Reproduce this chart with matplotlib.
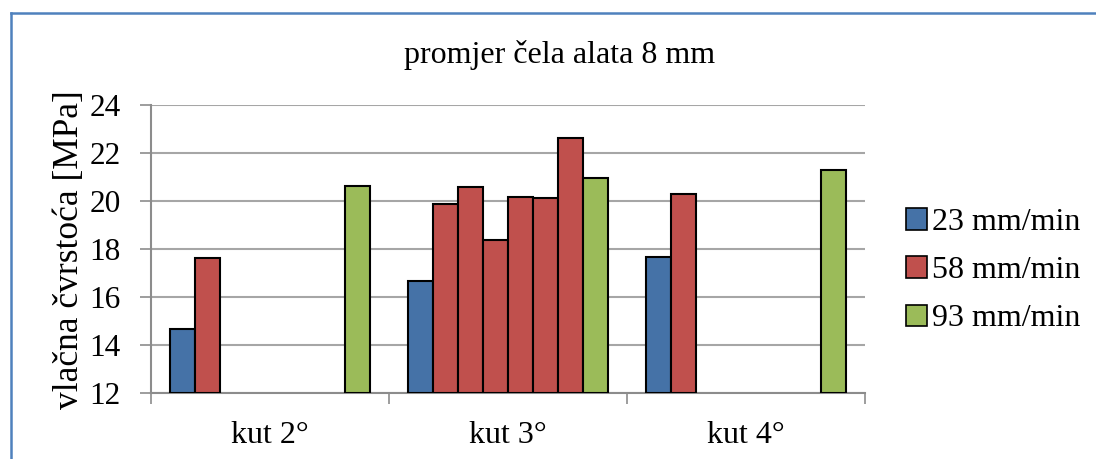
import numpy as np
import matplotlib.pyplot as plt
from matplotlib.lines import Line2D
from matplotlib.patches import Patch

plt.rcParams['font.family'] = ['Liberation Serif', 'DejaVu Serif']

# podaci
kategorije = ['kut 2°', 'kut 3°', 'kut 4°']
v23 = [14.7, 16.68, 17.67]
v58 = [[17.63], [19.89, 20.61, 18.39, 20.17, 20.12, 22.64], [20.3]]
v93 = [20.64, 20.97, 21.29]
oznake = ['23 mm/min', '58 mm/min', '93 mm/min']
yticks = [12, 14, 16, 18, 20, 22, 24]

boje = ['#4572A7', '#C0504D', '#9BBB59']
n_slot = 8
w = 1 / 9.5

fig = plt.figure(figsize=(10.96, 4.59), dpi=100)
ax = fig.add_axes([0.1378, 0.1431, 0.6514, 0.6275])

x = np.arange(len(kategorije))
off = (np.arange(n_slot) - 3.5) * w

ax.bar(x + off[0], np.array(v23) - 12, w, bottom=12, color=boje[0],
       edgecolor='black', linewidth=1.5, zorder=3)
for i, vals in enumerate(v58):
    for j, v in enumerate(vals):
        ax.bar(x[i] + off[1 + j], v - 12, w, bottom=12, color=boje[1],
               edgecolor='black', linewidth=1.5, zorder=3)
ax.bar(x + off[7], np.array(v93) - 12, w, bottom=12, color=boje[2],
       edgecolor='black', linewidth=1.5, zorder=3)

ax.set_ylim(12, 24)
ax.set_xlim(-0.5, 2.5)
ax.set_yticks(yticks)
ax.yaxis.grid(True, color='#A6A6A6', linewidth=1.5, zorder=0)
ax.tick_params(axis='y', labelsize=22.5, length=8, width=1.2, color='#8C8C8C', pad=14)

ax.set_xticks(x)
ax.set_xticklabels(kategorije)
ax.set_xticks([-0.5, 0.5, 1.5, 2.5], minor=True)
ax.tick_params(axis='x', which='major', length=0, labelsize=23, pad=20)
ax.tick_params(axis='x', which='minor', length=8, width=1.2, color='#8C8C8C')

for s in ['top', 'right']:
    ax.spines[s].set_visible(False)
for s in ['left', 'bottom']:
    ax.spines[s].set_color('#8C8C8C')
    ax.spines[s].set_linewidth(1.5)

ax.set_ylabel('vlačna čvrstoća [MPa]', fontsize=25.5, labelpad=2)

fig.text(0.511, 1 - 55 / 459, 'promjer čela alata 8 mm', ha='center', va='center', fontsize=23)

rucke = [Patch(facecolor=b, edgecolor='black', linewidth=1.2) for b in boje]
fig.legend(rucke, oznake, loc='center left', bbox_to_anchor=(0.827, 0.41), frameon=False,
           fontsize=23, handlelength=0.65, handleheight=0.65, handletextpad=0.15,
           labelspacing=0.6, borderpad=0, borderaxespad=0)

# okvir grafikona
fig.add_artist(Line2D([11 / 1096, 11 / 1096], [0, 1 - 13 / 459], color='#4F81BD', linewidth=1.8))
fig.add_artist(Line2D([11 / 1096, 1], [1 - 13 / 459, 1 - 13 / 459], color='#4F81BD', linewidth=1.8))

fig.savefig('out.png', dpi=100)
